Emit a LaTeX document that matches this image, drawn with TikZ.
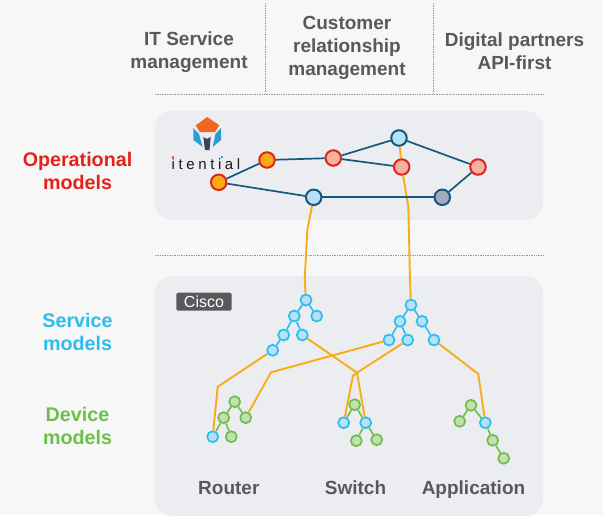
\documentclass[tikz,border=0pt]{standalone}
\usepackage{fontspec}
\setmainfont{Liberation Sans}
\usetikzlibrary{positioning}
\definecolor{pagebg}{HTML}{F7F7F7}
\definecolor{panelbg}{HTML}{ECEDF0}
\definecolor{textgray}{HTML}{58595B}
\definecolor{opred}{HTML}{E2231A}
\definecolor{svcblue}{HTML}{2BBDEE}
\definecolor{devgreen}{HTML}{6CC04A}
\definecolor{linkblue}{HTML}{17587F}
\definecolor{wireorange}{HTML}{FBAB18}
\definecolor{lightblue}{HTML}{B5E2F6}
\definecolor{salmon}{HTML}{F4B3A0}
\definecolor{slate}{HTML}{A0ABBF}
\definecolor{lightgreen}{HTML}{C5DFB5}
\definecolor{logoorange}{HTML}{F26522}
\definecolor{logoblue}{HTML}{2B9CD8}
\definecolor{logodark}{HTML}{3A4256}
\tikzset{
    panel/.style={draw=none, fill=panelbg, rounded corners=17pt},
    sepline/.style={densely dotted, draw=gray!80, line width=0.7pt},
    title/.style={text=textgray, font=\fontsize{19}{23}\selectfont\bfseries, align=center, anchor=base, inner sep=0pt},
    sidetitle/.style={font=\fontsize{19.7}{23}\selectfont\bfseries, align=center, anchor=base, inner sep=0pt},
    opnode/.style={circle, draw=opred, line width=2pt, minimum size=15.5pt, inner sep=0pt},
    topnode/.style={circle, draw=linkblue, line width=2pt, minimum size=15.5pt, inner sep=0pt},
    svcnode/.style={circle, draw=svcblue, fill=lightblue, line width=1.7pt, minimum size=11pt, inner sep=0pt},
    devnode/.style={circle, draw=devgreen, fill=lightgreen, line width=1.7pt, minimum size=11pt, inner sep=0pt},
    link/.style={draw=linkblue, line width=1.7pt},
    svclink/.style={draw=svcblue, line width=1.6pt},
    devlink/.style={draw=devgreen, line width=1.6pt},
    wire/.style={draw=wireorange, line width=1.9pt, line join=round}
}
\begin{document}
\begin{tikzpicture}[x=1pt, y=-1pt]
        \useasboundingbox[fill=pagebg] (0,0) rectangle (603,515);

        % Panels
        \begin{scope}
            \clip (0,0) rectangle (603,515);
            \fill[panel] (155,111) rectangle (543,220);
            \fill[panel] (155,276) rectangle (543,516);
        \end{scope}

        % Separators
        \coordinate (sepa) at (265,3);
        \coordinate (sepb) at (265,94.5);
        \coordinate (sepc) at (433.5,3);
        \coordinate (sepd) at (433.5,94.5);
        \coordinate (sepe) at (155,94.5);
        \coordinate (sepf) at (544,94.5);
        \coordinate (sepg) at (155,255);
        \coordinate (seph) at (544,255);
        \draw[sepline] (sepa) -- (sepb);
        \draw[sepline] (sepc) -- (sepd);
        \draw[sepline] (sepe) -- (sepf);
        \draw[sepline] (sepg) -- (seph);

        % Titles
        \node[title] (itsm) at (189,68.5) {IT Service\\management};
        \node[title] (crm) at (347,75) {Customer\\relationship\\management};
        \node[title] (api) at (514.5,69) {Digital partners\\API-first};
        \node[sidetitle, text=opred] (opmodels) at (77.5,189) {Operational\\models};
        \node[sidetitle, text=svcblue] (svcmodels) at (77.5,350) {Service\\models};
        \node[sidetitle, text=devgreen] (devmodels) at (77.5,444.5) {Device\\models};
        \node[title] (router) at (228.8,494.3) {Router};
        \node[title] (switch) at (355.5,494.3) {Switch};
        \node[title] (application) at (473.5,494.3) {Application};

        % Cisco tag
        \node[fill=textgray, text=white, rounded corners=2pt, font=\fontsize{16}{16}\selectfont, minimum width=55.4pt, minimum height=18pt, inner sep=0pt] (cisco) at (204,301.7) {Cisco};

        % Itential logo
        \fill[logoorange] (207.3,117) -- (219.3,125.3) -- (215,132) -- (199.7,132) -- (195.7,125.3) -- cycle;
        \fill[logoblue] (193.3,128) -- (199,134) -- (202.7,147) -- (193.3,140) -- cycle;
        \fill[logoblue] (221,128) -- (215.5,134) -- (212.7,147) -- (221,140) -- cycle;
        \fill[logodark] (203.3,137) -- (207,139) -- (210.7,137) -- (209.5,150) -- (205,150) -- cycle;
        \node[text=black!90, font=\fontsize{15}{15}\selectfont\addfontfeature{LetterSpace=24}, inner sep=0pt, anchor=base west] (itential) at (171.5,169.3) {itential};
        \fill[logoorange] (172.3,156) rectangle (174.2,158);
        \fill[logoblue] (220.8,156) rectangle (222.7,158);

        % Orange wires
        \node[topnode, fill=lightblue] (op4) at (399,138) {};
        \node[opnode, fill=salmon] (op5) at (401.7,167) {};
        \node[svcnode] (sa) at (306,300) {};
        \node[svcnode] (tp) at (411,305) {};
        \node[topnode, fill=lightblue] (op7) at (313.7,197.3) {};

        \coordinate (wa) at (307.3,230);
        \coordinate (wb) at (304.7,280);
        \coordinate (wc) at (408.3,206.7);
        \coordinate (wd) at (410,280);
        \coordinate (we) at (217.7,386.7);
        \coordinate (wf) at (271,372.3);
        \coordinate (wg) at (357,372.7);
        \coordinate (wh) at (353,375.7);
        \coordinate (wi) at (478.3,374);

        \draw[wire] (op7) -- (wa) -- (wb) -- (sa);
        \draw[wire] (op4) -- (op5) -- (wc) -- (wd) -- (tp);

        % Operational graph
        \node[opnode, fill=wireorange] (op1) at (218.7,182.3) {};
        \node[opnode, fill=wireorange] (op2) at (267,160) {};
        \node[opnode, fill=salmon] (op3) at (333.3,158) {};
        \node[opnode, fill=salmon] (op6) at (478,167) {};
        \node[topnode, fill=slate] (op8) at (442.3,197.3) {};

        \draw[link] (op1) -- (op2);
        \draw[link] (op2) -- (op3);
        \draw[link] (op3) -- (op4);
        \draw[link] (op3) -- (op5);
        \draw[link] (op4) -- (op6);
        \draw[link] (op6) -- (op8);
        \draw[link] (op8) -- (op7);
        \draw[link] (op7) -- (op1);

        % Service trees
        \node[svcnode] (sb) at (294.3,316) {};
        \node[svcnode] (sc) at (316.7,316) {};
        \node[svcnode] (sd) at (283.7,335) {};
        \node[svcnode] (se) at (302.3,335) {};
        \node[svcnode] (sf) at (272.7,350.3) {};
        \node[svcnode] (tb) at (400,321.3) {};
        \node[svcnode] (tc) at (422,321.3) {};
        \node[svcnode] (td) at (389,340) {};
        \node[svcnode] (te) at (407.7,340) {};
        \node[svcnode] (tf) at (434,340) {};

        \draw[svclink] (sa) -- (sb);
        \draw[svclink] (sa) -- (sc);
        \draw[svclink] (sb) -- (sd);
        \draw[svclink] (sb) -- (se);
        \draw[svclink] (sd) -- (sf);
        \draw[svclink] (tp) -- (tb);
        \draw[svclink] (tp) -- (tc);
        \draw[svclink] (tb) -- (td);
        \draw[svclink] (tb) -- (te);
        \draw[svclink] (tc) -- (tf);

        % Device trees
        \node[devnode] (ra) at (234.7,401.7) {};
        \node[devnode] (rb) at (223.7,417.7) {};
        \node[devnode] (rc) at (245.7,417.7) {};
        \node[svcnode] (rd) at (212.7,436.7) {};
        \node[devnode] (re) at (231.3,436.7) {};
        \node[devnode] (wsa) at (354.7,404.7) {};
        \node[svcnode] (wsb) at (343.7,422.7) {};
        \node[svcnode] (wsc) at (365.7,422.7) {};
        \node[devnode] (wsd) at (356.3,440.7) {};
        \node[devnode] (wse) at (376.7,439.7) {};
        \node[devnode] (aa) at (471,405.3) {};
        \node[devnode] (ab) at (459.7,421.3) {};
        \node[svcnode] (ac) at (485.3,422.7) {};
        \node[devnode] (ad) at (492.7,440.3) {};
        \node[devnode] (ae) at (503.7,458.3) {};

        \draw[devlink] (ra) -- (rb);
        \draw[devlink] (ra) -- (rc);
        \draw[devlink] (rb) -- (rd);
        \draw[devlink] (rb) -- (re);
        \draw[devlink] (wsa) -- (wsb);
        \draw[devlink] (wsa) -- (wsc);
        \draw[devlink] (wsc) -- (wsd);
        \draw[devlink] (wsc) -- (wse);
        \draw[devlink] (aa) -- (ab);
        \draw[devlink] (aa) -- (ac);
        \draw[devlink] (ac) -- (ad);
        \draw[devlink] (ad) -- (ae);

        % Service to device wires
        \draw[wire] (sf) -- (we) -- (rd);
        \draw[wire] (td) -- (wf) -- (rc);
        \draw[wire] (se) -- (wg) -- (wh) -- (wsb);
        \draw[wire] (te) -- (wg) -- (wsc);
        \draw[wire] (tf) -- (wi) -- (ac);

    \end{tikzpicture}
\end{document}
